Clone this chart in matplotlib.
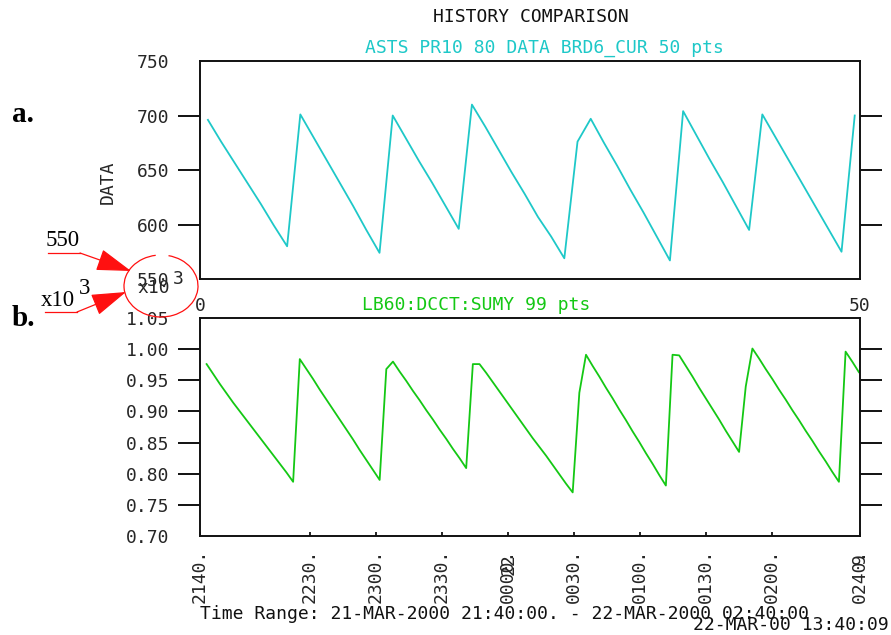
import matplotlib.pyplot as plt
import numpy as np
from matplotlib import patches

# ASTS PR10 80 DATA BRD6_CUR, 50 pts
brd6_cur = [696, 676, 657, 638, 619, 599, 580,
            701, 680, 659, 638, 617, 595, 574,
            700, 679, 658, 638, 617, 596,
            710, 690, 669, 648, 628, 607, 589, 569,
            676,
            697, 675, 654, 632, 611, 589, 567,
            704, 682, 660, 639, 617, 595,
            701, 680, 659, 638, 617, 596, 575,
            700]

# LB60:DCCT:SUMY, 99 pts (x10^3)
dcct_sumy = [0.976, 0.960, 0.944, 0.929, 0.914, 0.900, 0.886, 0.872, 0.858, 0.844, 0.830, 0.816, 0.802, 0.787,
             0.984, 0.968, 0.952, 0.935, 0.919, 0.903, 0.887, 0.871, 0.855, 0.838, 0.822, 0.806, 0.790,
             0.968,
             0.980, 0.964, 0.949, 0.933, 0.918, 0.902, 0.887, 0.871, 0.856, 0.840, 0.825, 0.809,
             0.976,
             0.976, 0.962, 0.947, 0.932, 0.917, 0.902, 0.887, 0.872, 0.857, 0.843, 0.829, 0.814, 0.799, 0.784, 0.770,
             0.930,
             0.991, 0.973, 0.956, 0.938, 0.921, 0.903, 0.886, 0.868, 0.851, 0.833, 0.816, 0.798, 0.781,
             0.991,
             0.990, 0.973, 0.956, 0.938, 0.921, 0.904, 0.887, 0.869, 0.852, 0.835,
             0.940,
             1.001, 0.985, 0.968, 0.952, 0.935, 0.919, 0.902, 0.886, 0.869, 0.853, 0.836, 0.820, 0.803, 0.787,
             0.996, 0.980, 0.963]

# sample positions: top in point index, bottom in minutes after 21:40
brd6_x = np.linspace(0.6, 49.6, len(brd6_cur))
dcct_t = np.linspace(3.0, 299.5, len(dcct_sumy))

top_yticks = [550, 600, 650, 700, 750]
bot_yticks = [0.70, 0.75, 0.80, 0.85, 0.90, 0.95, 1.00, 1.05]
bot_ylabels = ["0.70", "0.75", "0.80", "0.85", "0.90", "0.95", "1.00", "1.05"]
time_ticks = [0, 50, 80, 110, 140, 170, 200, 230, 260, 300]
time_labels = ["2140.", "2230.", "2300.", "2330.", "0000.", "0030.", "0100.", "0130.", "0200.", "0240."]

cyan = "#1ec8c8"
green = "#14c814"
txt = "#262626"
mono = "DejaVu Sans Mono"
fs = 13

W, H = 891, 635
fig = plt.figure(figsize=(W / 100, H / 100), dpi=100)
fig.patch.set_facecolor("white")


def fx(px):
    return px / W


def fy(py):
    return 1 - py / H


def box(ax):
    for s in ax.spines.values():
        s.set_linewidth(1.4)
        s.set_color("#111111")
    ax.tick_params(axis="y", which="major", length=16, width=1.4, direction="out",
                   left=True, right=True, labelright=False, color="#111111",
                   pad=6, labelsize=fs, labelcolor=txt)
    for lab in ax.get_yticklabels():
        lab.set_fontfamily(mono)
    # no tick lines at the ends of the scale, only labels
    ticks = ax.yaxis.get_major_ticks()
    for t in (ticks[0], ticks[-1]):
        t.tick1line.set_visible(False)
        t.tick2line.set_visible(False)


# top panel
ax1 = fig.add_axes([fx(200), fy(279), fx(660), 218 / H])
ax1.plot(brd6_x, brd6_cur, color=cyan, lw=1.3)
ax1.set_xlim(0, 50)
ax1.set_ylim(550, 750)
ax1.set_yticks(top_yticks)
ax1.set_xticks([0, 50])
ax1.set_xticklabels(["0", "50"], fontfamily=mono, fontsize=fs, color=txt)
ax1.tick_params(axis="x", length=0, pad=13)
box(ax1)

# bottom panel
ax2 = fig.add_axes([fx(200), fy(536), fx(660), 218 / H])
ax2.plot(dcct_t, dcct_sumy, color=green, lw=1.3)
ax2.set_xlim(0, 300)
ax2.set_ylim(0.70, 1.05)
ax2.set_yticks(bot_yticks)
ax2.set_yticklabels(bot_ylabels)
ax2.set_xticks(time_ticks)
ax2.set_xticklabels(time_labels, rotation=90, fontfamily=mono, fontsize=fs, color=txt)
ax2.tick_params(axis="x", direction="in", length=3, width=1.2, pad=9)
box(ax2)

# overlapping date marks on the time axis
fig.text(fx(509), fy(553), "22", rotation=90, family=mono, fontsize=fs, color=txt,
         ha="center", va="top")
fig.text(fx(860), fy(553), "9", rotation=90, family=mono, fontsize=fs, color=txt,
         ha="center", va="top")

# titles
fig.text(fx(531), fy(17), "HISTORY COMPARISON", family=mono, fontsize=fs, color="#111111",
         ha="center", va="center")
fig.text(fx(544), fy(48), "ASTS PR10 80 DATA BRD6_CUR 50 pts", family=mono, fontsize=fs,
         color=cyan, ha="center", va="center")
fig.text(fx(476), fy(305), "LB60:DCCT:SUMY 99 pts", family=mono, fontsize=fs,
         color=green, ha="center", va="center")
fig.text(fx(108), fy(182), "DATA", family=mono, fontsize=fs, color=txt, rotation=90,
         ha="center", va="center")

# exponent of bottom axis
fig.text(fx(170), fy(288), "x10", family=mono, fontsize=fs, color=txt, ha="right", va="center")
fig.text(fx(178), fy(279), "3", family=mono, fontsize=fs, color=txt, ha="center", va="center")

fig.text(fx(200), fy(614), "Time Range: 21-MAR-2000 21:40:00. - 22-MAR-2000 02:40:00",
         family=mono, fontsize=fs, color="#111111", ha="left", va="center")
fig.text(fx(889), fy(625), "22-MAR-00 13:40:09", family=mono, fontsize=fs, color="#111111",
         ha="right", va="center")

# hand annotations
serif = "Liberation Serif"
fig.text(fx(12), fy(115), "a.", family=serif, weight="bold", fontsize=21, ha="left", va="center")
fig.text(fx(12), fy(318), "b.", family=serif, weight="bold", fontsize=21, ha="left", va="center")
fig.text(fx(63), fy(241), "550", family=serif, fontsize=16.5, ha="center", va="center")
fig.text(fx(58), fy(300), "x10", family=serif, fontsize=16.5, ha="center", va="center")
fig.text(fx(85), fy(289), "3", family=serif, fontsize=16.5, ha="center", va="center")

red = "#ff1010"
for (x0, y0, x1, y1) in [(48, 253, 80, 253), (45, 312, 77, 312)]:
    fig.add_artist(plt.Line2D([fx(x0), fx(x1)], [fy(y0), fy(y1)], transform=fig.transFigure,
                              color=red, lw=0.9))
for (x0, y0, x1, y1) in [(80, 253, 131, 271), (77, 312, 126, 292)]:
    fig.add_artist(patches.FancyArrowPatch((fx(x0), fy(y0)), (fx(x1), fy(y1)),
                                           transform=fig.transFigure,
                                           arrowstyle="-|>,head_length=1.1,head_width=0.35",
                                           mutation_scale=20, color=red, lw=0.9,
                                           shrinkA=0, shrinkB=0))
fig.add_artist(patches.Arc((fx(161), fy(286)), fx(74), 62 / H, theta1=97, theta2=440,
                           transform=fig.transFigure, color=red, lw=0.9))

fig.savefig("out.png", dpi=100, facecolor="white")
